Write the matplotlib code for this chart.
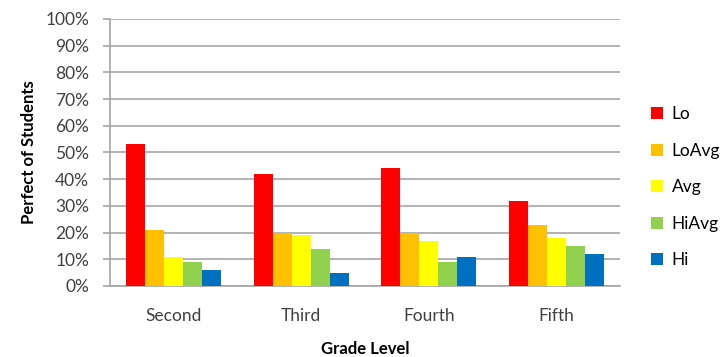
import numpy as np
import matplotlib.pyplot as plt
from matplotlib.ticker import PercentFormatter

grades = ["Second", "Third", "Fourth", "Fifth"]
series = ["Lo", "LoAvg", "Avg", "HiAvg", "Hi"]
colors = ["#FF0000", "#FFC000", "#FFFF00", "#92D050", "#0070C0"]

lo = [53, 42, 44, 32]
lo_avg = [21, 20, 20, 23]
avg = [11, 19, 17, 18]
hi_avg = [9, 14, 9, 15]
hi = [6, 5, 11, 12]


def main():
    plt.rcParams["font.family"] = ["Lato", "DejaVu Sans"]

    values = [lo, lo_avg, avg, hi_avg, hi]

    fig = plt.figure(figsize=(7.2, 3.57), dpi=100)
    ax = fig.add_axes([0.1528, 0.1989, 0.7083, 0.748])

    x = np.arange(len(grades))
    width = 0.149
    for i, (name, vals) in enumerate(zip(series, values)):
        offset = (i - 2) * width
        ax.bar(x + offset, vals, width, color=colors[i], label=name,
               zorder=3, linewidth=0)

    ax.set_xlim(-0.5, len(grades) - 0.5)
    ax.set_ylim(0, 100)
    ax.set_yticks(np.arange(0, 101, 10))
    ax.yaxis.set_major_formatter(PercentFormatter(decimals=0))
    ax.set_xticks(x)
    ax.set_xticklabels(grades)

    ax.grid(axis="y", color="#A6A6A6", linewidth=1.2, zorder=0)
    for side in ["top", "right"]:
        ax.spines[side].set_visible(False)
    for side in ["left", "bottom"]:
        ax.spines[side].set_color("#A6A6A6")
        ax.spines[side].set_linewidth(1.2)

    ax.tick_params(axis="y", length=5, width=1.2, color="#A6A6A6",
                   labelsize=12.5, labelcolor="#404040", pad=10)
    ax.tick_params(axis="x", length=0, labelsize=12.5,
                   labelcolor="#404040", pad=16)

    ax.set_ylabel("Perfect of Students", fontsize=12, fontweight="bold",
                  labelpad=6)
    ax.set_xlabel("Grade Level", fontsize=12, fontweight="bold",
                  labelpad=12)

    ax.legend(loc="center left", bbox_to_anchor=(1.03, 0.37), frameon=False,
              fontsize=12.5, labelspacing=1.18, handlelength=0.7,
              handleheight=0.7, handletextpad=0.5)

    plt.savefig("out.png", dpi=100)


if __name__ == "__main__":
    main()
